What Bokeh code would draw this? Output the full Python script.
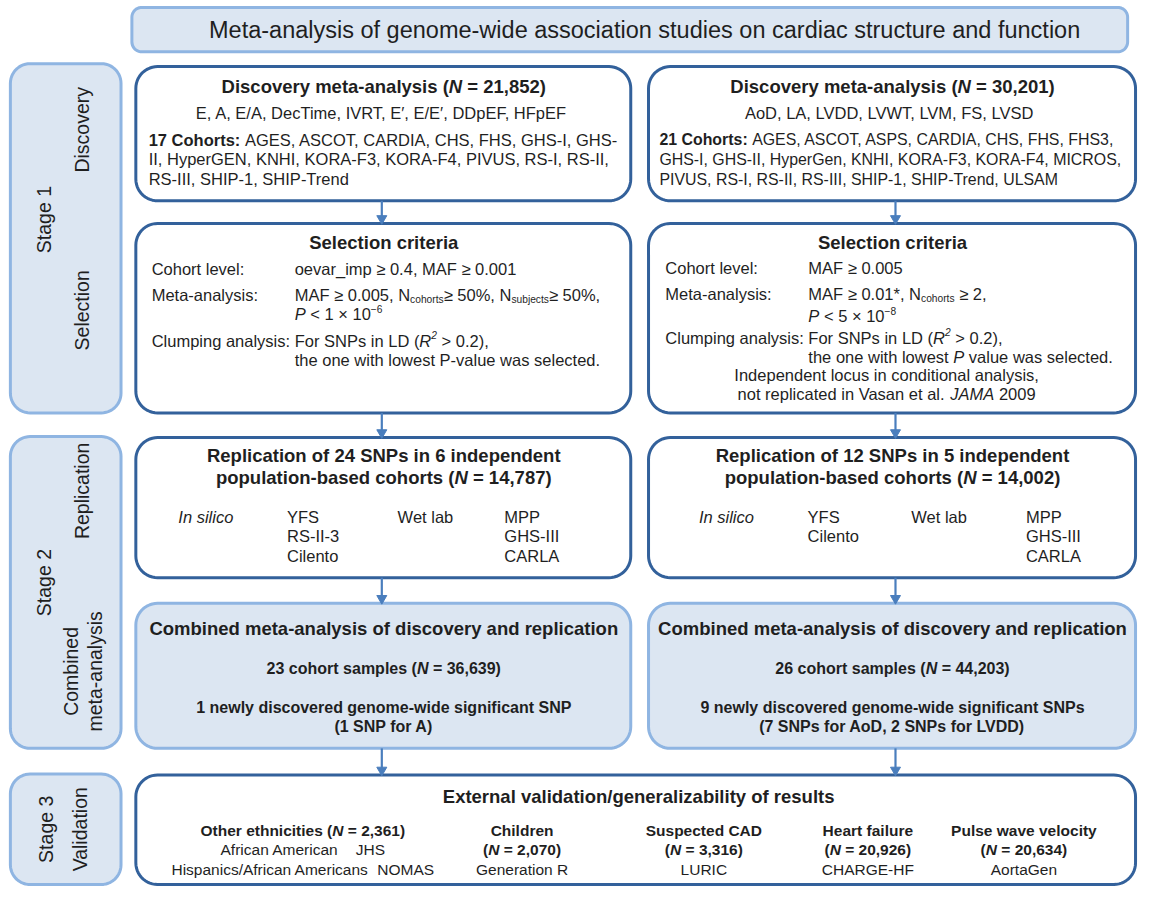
import numpy as np
from bokeh.plotting import figure
from bokeh.models import ColumnDataSource, Range1d
from bokeh.core.properties import value, field
from bokeh.embed import file_html
from bokeh.resources import INLINE

# ---------------- texts (content of the flowchart) ----------------
title_text = "Meta-analysis of genome-wide association studies on cardiac structure and function"

stage_labels = ["Stage 1", "Discovery", "Selection", "Stage 2", "Replication",
                "Combined", "meta-analysis", "Stage 3", "Validation"]

disc_left_head = [("Discovery meta-analysis (", "b"), ("N", "bi"), (" = 21,852)", "b")]
disc_left_traits = "E, A, E/A, DecTime, IVRT, E\u2032, E/E\u2032, DDpEF, HFpEF"
disc_left_cohorts = [
    [("17 Cohorts:", "b"), (" AGES, ASCOT, CARDIA, CHS, FHS, GHS-I, GHS-", "n")],
    [("II, HyperGEN, KNHI, KORA-F3, KORA-F4, PIVUS, RS-I, RS-II,", "n")],
    [("RS-III, SHIP-1, SHIP-Trend", "n")],
]
disc_right_head = [("Discovery meta-analysis (", "b"), ("N", "bi"), (" = 30,201)", "b")]
disc_right_traits = "AoD, LA, LVDD, LVWT, LVM, FS, LVSD"
disc_right_cohorts = [
    [("21 Cohorts:", "b"), (" AGES, ASCOT, ASPS, CARDIA, CHS, FHS, FHS3,", "n")],
    [("GHS-I, GHS-II, HyperGen, KNHI, KORA-F3, KORA-F4, MICROS,", "n")],
    [("PIVUS, RS-I, RS-II, RS-III, SHIP-1, SHIP-Trend, ULSAM", "n")],
]

sel_head = [("Selection criteria", "b")]
sel_left_rows = [
    ("Cohort level:", [("oevar_imp \u2265 0.4, MAF \u2265 0.001", "n")]),
    ("Meta-analysis:", [("MAF \u2265 0.005, N", "n"), ("cohorts", "sub"), ("\u2265 50%, N", "n"),
                        ("subjects", "sub"), ("\u2265 50%,", "n")]),
    ("", [("P", "i"), (" < 1 \u00d7 10", "n"), ("\u22126", "sup")]),
    ("Clumping analysis:", [("For SNPs in LD (", "n"), ("R", "i"), ("2", "isup"), (" > 0.2),", "n")]),
    ("", [("the one with lowest P-value was selected.", "n")]),
]
sel_right_rows = [
    ("Cohort level:", [("MAF \u2265 0.005", "n")]),
    ("Meta-analysis:", [("MAF \u2265 0.01*, N", "n"), ("cohorts", "sub"), (" \u2265 2,", "n")]),
    ("", [("P", "i"), (" < 5 \u00d7 10", "n"), ("\u22128", "sup")]),
    ("Clumping analysis:", [("For SNPs in LD (", "n"), ("R", "i"), ("2", "isup"), (" > 0.2),", "n")]),
    ("", [("the one with lowest ", "n"), ("P", "i"), (" value was selected.", "n")]),
]
sel_right_note = [
    [("Independent locus in conditional analysis,", "n")],
    [("not replicated in Vasan et al. ", "n"), ("JAMA", "i"), (" 2009", "n")],
]

rep_left_head = [[("Replication of 24 SNPs in 6 independent", "b")],
                 [("population-based cohorts (", "b"), ("N", "bi"), (" = 14,787)", "b")]]
rep_right_head = [[("Replication of 12 SNPs in 5 independent", "b")],
                  [("population-based cohorts (", "b"), ("N", "bi"), (" = 14,002)", "b")]]
rep_left_silico = ["YFS", "RS-II-3", "Cilento"]
rep_left_wetlab = ["MPP", "GHS-III", "CARLA"]
rep_right_silico = ["YFS", "Cilento"]
rep_right_wetlab = ["MPP", "GHS-III", "CARLA"]

comb_head = "Combined meta-analysis of discovery and replication"
comb_left = [[("23 cohort samples (", "b"), ("N", "bi"), (" = 36,639)", "b")],
             [("1 newly discovered genome-wide significant SNP", "b")],
             [("(1 SNP for A)", "b")]]
comb_right = [[("26 cohort samples (", "b"), ("N", "bi"), (" = 44,203)", "b")],
              [("9 newly discovered genome-wide significant SNPs", "b")],
              [("(7 SNPs for AoD, 2 SNPs for LVDD)", "b")]]

val_head = "External validation/generalizability of results"
val_cols = [
    [[("Other ethnicities (", "b"), ("N", "bi"), (" = 2,361)", "b")],
     [("African American", "n"), ("    JHS", "n")],
     [("Hispanics/African Americans", "n"), ("  NOMAS", "n")]],
    [[("Children", "b")], [("(", "b"), ("N", "bi"), (" = 2,070)", "b")], [("Generation R", "n")]],
    [[("Suspected CAD", "b")], [("(", "b"), ("N", "bi"), (" = 3,316)", "b")], [("LURIC", "n")]],
    [[("Heart failure", "b")], [("(", "b"), ("N", "bi"), (" = 20,926)", "b")], [("CHARGE-HF", "n")]],
    [[("Pulse wave velocity", "b")], [("(", "b"), ("N", "bi"), (" = 20,634)", "b")], [("AortaGen", "n")]],
]

# ---------------- style ----------------
FONT = "Liberation Sans"
TXT = "#1f1f1f"
DARK = "#33619b"
LIGHT_FILL = "#dce6f2"
LIGHT_LINE = "#8fb5e2"
ARROW = "#4a7ebd"
TITLE = 23.5
STAGE = 19.5
HEAD = 18.5
BODY = 16.5
BODY_R = 15.9
BSUB = 16.0
VAL = 15.5
SCR = 0.62

PW, PH = 1138, 886
XMAX, YMAX = 1152.0, 898.0
KX, KY = XMAX / PW, YMAX / PH   # data units per screen pixel

# Arial/Liberation Sans advance widths (per 1000 em)
REG = dict(zip(" !\"#$%&'()*+,-./", [278, 278, 355, 556, 556, 889, 667, 191, 333, 333, 389, 584, 278, 333, 278, 278]))
REG.update({d: 556 for d in "0123456789"})
REG.update(zip(":;<=>?@", [278, 278, 584, 584, 584, 556, 1015]))
REG.update(zip("ABCDEFGHIJKLMNOPQRSTUVWXYZ", [667, 667, 722, 722, 667, 611, 778, 722, 278, 500, 667, 556, 833,
                                              722, 778, 667, 778, 722, 667, 611, 722, 667, 944, 667, 667, 611]))
REG.update(zip("[\\]^_`abcdefghijklmnopqrstuvwxyz", [278, 278, 278, 469, 556, 333, 556, 556, 500, 556, 556, 278, 556, 556,
                                                    222, 222, 500, 222, 833, 556, 556, 556, 556, 333, 500, 278, 556,
                                                    500, 722, 500, 500, 500]))
REG.update({"\u2265": 549, "\u00d7": 584, "\u2212": 584, "\u2032": 191})
BOLD = dict(zip(" !\"#$%&'()*+,-./", [278, 333, 474, 556, 556, 889, 722, 238, 333, 333, 389, 584, 278, 333, 278, 278]))
BOLD.update({d: 556 for d in "0123456789"})
BOLD.update(zip(":;<=>?@", [333, 333, 584, 584, 584, 611, 975]))
BOLD.update(zip("ABCDEFGHIJKLMNOPQRSTUVWXYZ", [722, 722, 722, 722, 667, 611, 778, 722, 278, 556, 722, 611, 833,
                                               722, 778, 667, 778, 722, 667, 611, 722, 667, 944, 667, 667, 611]))
BOLD.update(zip("[\\]^_`abcdefghijklmnopqrstuvwxyz", [333, 278, 333, 584, 556, 333, 556, 611, 556, 611, 556, 333, 611, 611,
                                                     278, 278, 556, 278, 889, 611, 611, 611, 611, 389, 556, 333, 611,
                                                     556, 778, 556, 556, 500]))
STYLE = {"n": "normal", "b": "bold", "i": "italic", "bi": "bold italic",
         "sub": "normal", "sup": "normal", "isup": "italic"}

groups = {s: dict(x=[], y=[], text=[], size=[]) for s in ["normal", "bold", "italic", "bold italic"]}


def seg_width(t, st, size):
    """width in data units"""
    table = BOLD if st in ("b", "bi") else REG
    s = size * SCR if st in ("sub", "sup", "isup") else size
    return sum(table.get(c, 556) for c in t) * s / 1000.0 * KX


def put(x, y, t, style, size):
    g = groups[style]
    g["x"].append(x)
    g["y"].append(y)
    g["text"].append(t)
    g["size"].append("%.2fpx" % size)


def line(segs, y, size, x=None, cx=None):
    if isinstance(segs, str):
        segs = [(segs, "n")]
    total = sum(seg_width(t, st, size) for t, st in segs)
    if x is None:
        x = cx - total / 2.0
    for t, st in segs:
        w = seg_width(t, st, size)
        s = t.lstrip(" ")
        lead = seg_width(t[:len(t) - len(s)], st, size)
        fs, dy = size, 0.0
        if st == "sub":
            fs, dy = size * SCR, 0.30 * size * KY
        elif st in ("sup", "isup"):
            fs, dy = size * SCR, -0.33 * size * KY
        if s:
            put(x + lead, y + dy, s, STYLE[st], fs)
        x += w


def rrect(x0, y0, x1, y1, r, n=14):
    xs, ys = [], []
    for cx, cy, a0 in [(x0 + r, y0 + r, 180), (x1 - r, y0 + r, 270), (x1 - r, y1 - r, 0), (x0 + r, y1 - r, 90)]:
        t = np.radians(np.linspace(a0, a0 + 90, n))
        xs.extend(cx + r * np.cos(t))
        ys.extend(cy + r * np.sin(t))
    return xs, ys


# ---------------- figure ----------------
p = figure(width=PW, height=PH, x_range=Range1d(0, XMAX), y_range=Range1d(YMAX, 0),
           x_axis_type=None, y_axis_type=None, toolbar_location=None, output_backend="svg",
           min_border=0, outline_line_color=None, background_fill_color="white",
           border_fill_color="white")

# boxes
light_boxes = [(133, 7, 1141, 52, 10), (10, 64, 122, 418, 20), (10, 442, 122, 758, 20), (10, 784, 122, 896, 20),
               (137, 611, 638, 758, 22), (656, 611, 1149, 758, 22)]
dark_boxes = [(137, 67, 638, 203, 22), (656, 67, 1149, 203, 22), (137, 226, 638, 418, 22), (656, 226, 1149, 418, 22),
              (137, 443, 638, 585, 22), (656, 443, 1149, 585, 22), (137, 785, 1149, 896, 22)]
lx, ly = zip(*[rrect(*b) for b in light_boxes])
p.patches(list(lx), list(ly), fill_color=LIGHT_FILL, line_color=LIGHT_LINE, line_width=3)
dx, dy_ = zip(*[rrect(*b) for b in dark_boxes])
p.patches(list(dx), list(dy_), fill_color="white", line_color=DARK, line_width=3)

# arrows
ax = [386, 906] * 4
ay0 = [203, 203, 418, 418, 585, 585, 758, 758]
ay1 = [226, 226, 443, 443, 611, 611, 785, 785]
p.segment(x0=ax, y0=ay0, x1=ax, y1=[v - 6 for v in ay1], line_color=ARROW, line_width=2.2)
p.scatter(x=ax, y=[v - 5 for v in ay1], marker="inverted_triangle", size=10, color=ARROW)

# title
line(title_text, 30, TITLE, cx=652)

# discovery
LC, RC = 388, 903
line(disc_left_head, 87, HEAD, cx=LC)
line(disc_left_traits, 114, BODY, cx=LC)
for segs, yy in zip(disc_left_cohorts, [141, 161, 181]):
    line(segs, yy, BODY, x=150)
line(disc_right_head, 87, HEAD, cx=RC)
line(disc_right_traits, 114, BODY, cx=RC)
for segs, yy in zip(disc_right_cohorts, [141, 161, 181]):
    line(segs, yy, BODY_R, x=667)

# selection
line(sel_head, 245, HEAD, cx=LC)
line(sel_head, 245, HEAD, cx=RC)
col_off = seg_width("Clumping analysis: ", "n", BODY)
for (lab, segs), yy in zip(sel_left_rows, [272, 298, 318, 345, 364]):
    if lab:
        line(lab, yy, BODY, x=153)
    line(segs, yy, BODY, x=153 + col_off)
for (lab, segs), yy in zip(sel_right_rows, [271, 297, 320, 342, 361]):
    if lab:
        line(lab, yy, BODY, x=673)
    line(segs, yy, BODY, x=673 + col_off)
for segs, yy in zip(sel_right_note, [380, 399]):
    line(segs, yy, BODY, cx=897)

# replication
for segs, yy in zip(rep_left_head, [461, 483]):
    line(segs, yy, HEAD, cx=LC)
for segs, yy in zip(rep_right_head, [461, 483]):
    line(segs, yy, HEAD, cx=RC)
rows_y = [523, 543, 563]
for (xs_, silico, wet) in [((180, 290, 402, 510), rep_left_silico, rep_left_wetlab),
                           ((707, 817, 922, 1038), rep_right_silico, rep_right_wetlab)]:
    line([("In silico", "i")], rows_y[0], BODY, x=xs_[0])
    for t, yy in zip(silico, rows_y):
        line(t, yy, BODY, x=xs_[1])
    line("Wet lab", rows_y[0], BODY, x=xs_[2])
    for t, yy in zip(wet, rows_y):
        line(t, yy, BODY, x=xs_[3])

# combined
for cx, rows in [(LC, comb_left), (RC, comb_right)]:
    line([(comb_head, "b")], 636, HEAD, cx=cx)
    for segs, yy in zip(rows, [677, 717, 736]):
        line(segs, yy, BSUB, cx=cx)

# validation
line([(val_head, "b")], 807, HEAD, cx=646)
for cx, col in zip([306, 528, 712, 878, 1036], val_cols):
    for segs, yy in zip(col, [841, 861, 881]):
        line(segs, yy, VAL, cx=cx)

for style, g in groups.items():
    if g["x"]:
        p.text(x="x", y="y", text="text", source=ColumnDataSource(g), text_font=value(FONT),
               text_font_size=field("size"), text_font_style=style, text_color=TXT,
               text_baseline="middle", text_align="left")

# rotated stage labels
stage_x = [44, 82, 82, 44, 82, 71, 96, 46, 80]
stage_y = [222, 131, 314, 590, 497, 680, 680, 840, 840]
p.text(x=stage_x, y=stage_y, text=stage_labels, angle=np.pi / 2, text_font=value(FONT),
       text_font_size="%.1fpx" % STAGE, text_color=TXT, text_align="center", text_baseline="middle")

open("out.html", "w").write(file_html(p, INLINE))
